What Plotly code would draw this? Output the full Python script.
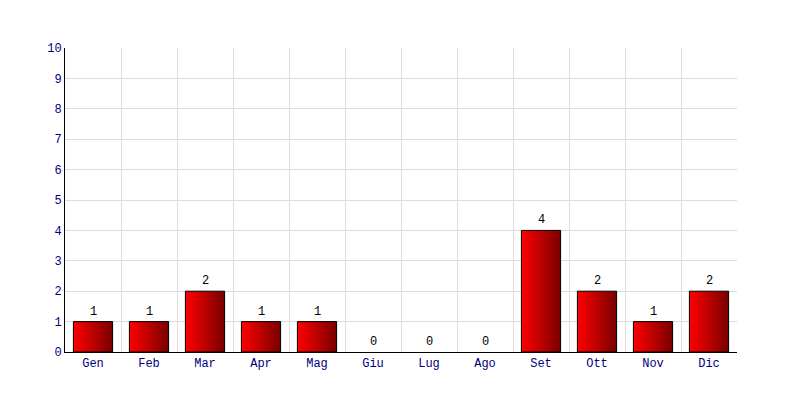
import plotly.graph_objects as go

months = ["Gen", "Feb", "Mar", "Apr", "Mag", "Giu", "Lug", "Ago", "Set", "Ott", "Nov", "Dic"]
values = [1, 1, 2, 1, 1, 0, 0, 0, 4, 2, 1, 2]
y_ticks = list(range(0, 11))

bar_width = 0.7
font_family = "Liberation Mono"

fig = go.Figure()

for i, v in enumerate(values):
    if v <= 0:
        continue
    x0, x1 = i - bar_width / 2, i + bar_width / 2
    fig.add_trace(go.Scatter(
        x=[x0, x1, x1, x0, x0],
        y=[0, 0, v, v, 0],
        mode="lines",
        fill="toself",
        fillgradient=dict(type="horizontal",
                          colorscale=[[0, "#ff0000"], [1, "#780000"]]),
        line=dict(color="black", width=1),
        hoverinfo="skip",
        showlegend=False,
    ))

for i, v in enumerate(values):
    fig.add_annotation(
        x=i, y=v, text=str(v),
        showarrow=False,
        xanchor="center", yanchor="bottom",
        yshift=1,
        font=dict(family=font_family, size=12, color="black"),
    )

fig.update_layout(
    width=800, height=400,
    margin=dict(l=57, r=71, t=40, b=56),
    paper_bgcolor="white",
    plot_bgcolor="white",
    font=dict(family=font_family, size=12, color="#000080"),
    xaxis=dict(
        range=[-0.5, len(months) - 0.5],
        tickvals=list(range(len(months))),
        ticktext=months,
        showgrid=False,
        zeroline=False,
        showline=True,
        linecolor="black",
        linewidth=1,
        ticks="",
        tickfont=dict(color="#000080"),
        minor=dict(tickvals=[i + 0.5 for i in range(len(months))],
                   showgrid=True, gridcolor="#dddddd", gridwidth=1),
        fixedrange=True,
    ),
    yaxis=dict(
        range=[0, 10],
        tickvals=y_ticks,
        showgrid=True,
        gridcolor="#dddddd",
        gridwidth=1,
        zeroline=False,
        showline=True,
        linecolor="black",
        linewidth=1,
        ticks="",
        tickfont=dict(color="#000080"),
        fixedrange=True,
    ),
)

fig.write_html("out.html")
